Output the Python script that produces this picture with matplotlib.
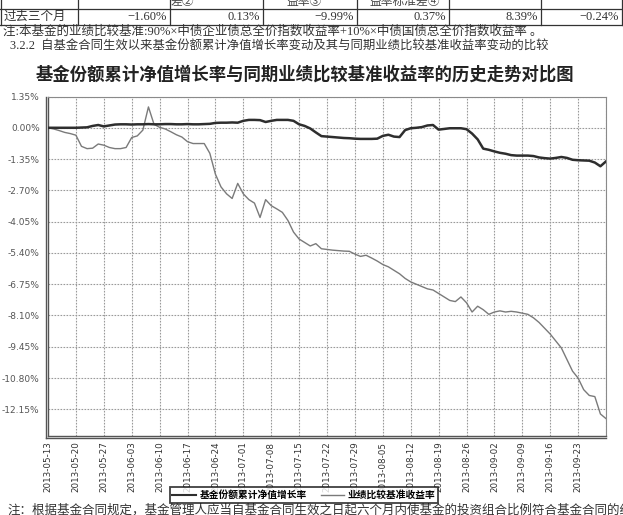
import matplotlib
matplotlib.use("Agg")
import matplotlib.pyplot as plt
from matplotlib.lines import Line2D
import matplotlib.transforms as mtransforms

plt.rcParams['font.family'] = ['Noto Sans CJK SC', 'DejaVu Sans']
plt.rcParams['axes.unicode_minus'] = False

# ---------------- data ----------------
tick_labels = ["2013-05-13", "2013-05-20", "2013-05-27", "2013-06-03", "2013-06-10",
               "2013-06-17", "2013-06-24", "2013-07-01", "2013-07-08", "2013-07-15",
               "2013-07-22", "2013-07-29", "2013-08-05", "2013-08-12", "2013-08-19",
               "2013-08-26", "2013-09-02", "2013-09-09", "2013-09-16", "2013-09-23"]

fund_nav = [0.00, 0.00, 0.00, 0.00, 0.00, 0.00, 0.01, 0.02, 0.08, 0.12,
            0.06, 0.10, 0.14, 0.15, 0.15, 0.14, 0.15, 0.15, 0.16, 0.15,
            0.15, 0.16, 0.16, 0.15, 0.15, 0.16, 0.15, 0.15, 0.16, 0.17,
            0.21, 0.22, 0.22, 0.23, 0.22, 0.30, 0.34, 0.34, 0.33, 0.25,
            0.30, 0.34, 0.34, 0.34, 0.30, 0.15, 0.08, -0.03, -0.20, -0.36,
            -0.38, -0.40, -0.42, -0.44, -0.45, -0.47, -0.48, -0.48, -0.48, -0.47,
            -0.35, -0.30, -0.38, -0.40, -0.10, -0.02, 0.00, 0.03, 0.10, 0.12,
            -0.08, -0.05, -0.02, -0.02, -0.02, -0.06, -0.25, -0.50, -0.90, -0.95,
            -1.02, -1.08, -1.12, -1.18, -1.20, -1.20, -1.20, -1.22, -1.28, -1.31,
            -1.33, -1.30, -1.26, -1.30, -1.38, -1.40, -1.41, -1.42, -1.50, -1.66,
            -1.45]

benchmark = [0.00, -0.05, -0.12, -0.20, -0.25, -0.32, -0.80, -0.90, -0.88, -0.70,
             -0.75, -0.85, -0.90, -0.90, -0.85, -0.42, -0.35, -0.10, 0.90, 0.15,
             0.02, -0.05, -0.17, -0.30, -0.40, -0.60, -0.68, -0.68, -0.68, -1.10,
             -2.00, -2.55, -2.85, -3.05, -2.40, -2.85, -3.10, -3.25, -3.87, -3.10,
             -3.36, -3.50, -3.65, -4.00, -4.50, -4.80, -4.95, -5.10, -5.00, -5.22,
             -5.25, -5.28, -5.30, -5.32, -5.33, -5.45, -5.55, -5.50, -5.62, -5.75,
             -5.90, -6.00, -6.15, -6.30, -6.50, -6.65, -6.75, -6.85, -6.95, -7.00,
             -7.15, -7.30, -7.45, -7.50, -7.30, -7.55, -7.95, -7.70, -7.85, -8.05,
             -7.95, -7.90, -7.95, -7.92, -7.95, -8.00, -8.05, -8.20, -8.40, -8.65,
             -8.90, -9.20, -9.50, -10.00, -10.50, -10.80, -11.30, -11.55, -11.60, -12.35,
             -12.55]

y_ticks = [1.35, 0.00, -1.35, -2.70, -4.05, -5.40, -6.75, -8.10, -9.45, -10.80, -12.15]
y_tick_labels = ["1.35%", "0.00%", "-1.35%", "-2.70%", "-4.05%", "-5.40%", "-6.75%",
                 "-8.10%", "-9.45%", "-10.80%", "-12.15%"]

row_label = "过去三个月"
row_values = ["-1.60%", "0.13%", "-9.99%", "0.37%", "8.39%", "-0.24%"]
header_tails = ["差②", "益率③", "益率标准差④"]

legend_labels = ["基金份额累计净值增长率", "业绩比较基准收益率"]
title = "基金份额累计净值增长率与同期业绩比较基准收益率的历史走势对比图"
note1 = "注:本基金的业绩比较基准:90%×中债企业债总全价指数收益率+10%×中债国债总全价指数收益率 。"
note2 = "3.2.2  自基金合同生效以来基金份额累计净值增长率变动及其与同期业绩比较基准收益率变动的比较"
note3 = "注：根据基金合同规定，基金管理人应当自基金合同生效之日起六个月内使基金的投资组合比例符合基金合同的约定"

# ---------------- figure ----------------
W, H = 623, 515
fig = plt.figure(figsize=(W / 100, H / 100), dpi=100)
fig.patch.set_facecolor("white")

def fx(px):
    return px / W

def fy(py):
    return 1 - py / H

mixed = ['Liberation Serif', 'Noto Sans CJK SC']

# table fragment at top
tcol = '#333333'
for yy in [9, 25]:
    fig.add_artist(Line2D([0, 1], [fy(yy), fy(yy)], transform=fig.transFigure,
                          color=tcol, lw=0.9))
col_lines = [1, 78, 170, 263, 357, 449, 541, 622]
for cx in col_lines:
    fig.add_artist(Line2D([fx(cx), fx(cx)], [fy(0), fy(25)], transform=fig.transFigure,
                          color=tcol, lw=0.9))
for cxc, txt in zip([182, 304, 405], header_tails):
    fig.text(fx(cxc), fy(2), txt, ha='center', va='center', fontsize=8.5,
             color='#444444', family=mixed)
fig.text(fx(4), fy(17), row_label, ha='left', va='center', fontsize=9,
         color='#333333', family=mixed)
for i, v in enumerate(row_values):
    fig.text(fx(col_lines[i + 2] - 3), fy(17), v.replace('-', '−'), ha='right',
             va='center', fontsize=9, color='#333333',
             family=['Liberation Serif', 'DejaVu Sans'])

fig.text(fx(3), fy(32), note1, ha='left', va='center', fontsize=9,
         color='#333333', family=mixed)
fig.text(fx(10), fy(46), note2, ha='left', va='center', fontsize=8.9,
         color='#333333', family=mixed)
fig.text(fx(305), fy(75), title, ha='center', va='center', fontsize=12.5,
         fontweight='bold', color='#222222', family=['Noto Sans CJK SC', 'DejaVu Sans'])
fig.text(fx(8), fy(510), note3, ha='left', va='center', fontsize=9,
         color='#333333', family=mixed)

# ---------------- chart ----------------
left, right, top, bottom = 48, 606, 96.5, 436
ax = fig.add_axes([fx(left), fy(bottom), fx(right) - fx(left), fy(top) - fy(bottom)])
x = list(range(len(fund_nav)))
ax.plot(x, benchmark, color='#7a7a7a', lw=1.0, zorder=3)
ax.plot(x, fund_nav, color='#2e2e2e', lw=1.8, zorder=4)

ax.set_xlim(0, 100)
ax.set_ylim(-13.3, 1.35)
ax.set_yticks(y_ticks)
ax.set_yticklabels(y_tick_labels, fontsize=6.5, color='#555555', family='DejaVu Sans')
xt = list(range(0, 100, 5))
ax.set_xticks(xt)
ax.set_xticklabels(tick_labels, rotation=90, fontsize=6.3, color='#333333',
                   family='DejaVu Sans', va='top', ha='center')
ax.tick_params(axis='both', length=0, pad=4)
ax.tick_params(axis='y', pad=6)

for yv in y_ticks:
    ax.axhline(yv, color='#9a9a9a', lw=0.8, ls=(0, (1.5, 1.2)), zorder=1)
for xv in xt[1:] + [100]:
    ax.axvline(xv, color='#9a9a9a', lw=0.8, ls=(0, (1.5, 1.2)), zorder=1)

for s in ['top', 'right']:
    ax.spines[s].set_color('#8a8a8a')
    ax.spines[s].set_linewidth(0.8)
for s in ['left', 'bottom']:
    ax.spines[s].set_color('#555555')
    ax.spines[s].set_linewidth(1.0)

# double line on left and bottom
off_l = mtransforms.offset_copy(ax.transAxes, fig=fig, x=-2.2, y=0, units='dots')
ax.add_line(Line2D([0, 0], [-0.007, 1], transform=off_l, color='#555555', lw=1.0,
                   clip_on=False))
off_b = mtransforms.offset_copy(ax.transAxes, fig=fig, x=0, y=-2.2, units='dots')
ax.add_line(Line2D([-0.004, 1], [0, 0], transform=off_b, color='#555555', lw=1.0,
                   clip_on=False))

# legend
handles = [Line2D([], [], color='#2e2e2e', lw=1.5), Line2D([], [], color='#7a7a7a', lw=1.0)]
leg = fig.legend(handles, legend_labels, loc='center', ncol=2,
                 bbox_to_anchor=(fx(304), fy(495)), frameon=True, fancybox=False,
                 handlelength=2.4, handletextpad=0.4, columnspacing=1.4,
                 borderpad=0.3,
                 prop={'family': ['Noto Sans CJK SC'], 'weight': 'bold', 'size': 7.0})
leg.get_frame().set_edgecolor('#111111')
leg.get_frame().set_linewidth(1.3)

fig.savefig("out.png", dpi=100, facecolor='white')
